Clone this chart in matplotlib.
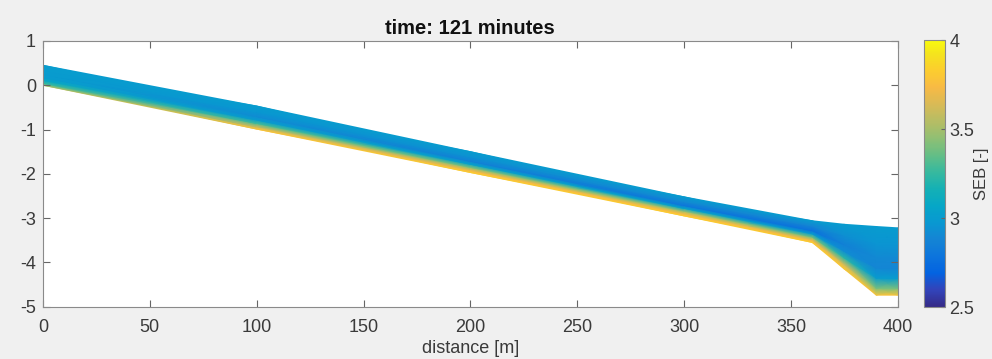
import numpy as np
import matplotlib
matplotlib.use("Agg")
import matplotlib.pyplot as plt
from matplotlib.colors import LinearSegmentedColormap, Normalize

plt.rcParams['font.family'] = ['Liberation Sans', 'DejaVu Sans']
plt.rcParams['axes.unicode_minus'] = False

# stations along the profile [m]
x_sta = [0, 100, 200, 300, 360, 375, 390, 400]
# bed and surface elevation at each station
bed = [0.0, -0.99, -1.97, -2.95, -3.55, -4.15, -4.74, -4.74]
surf = [0.45, -0.47, -1.50, -2.52, -3.06, -3.14, -3.19, -3.22]
# relative height above bed (0 = bed, 1 = surface)
levels = [0.0, 0.1, 0.25, 0.4, 0.55, 0.75, 1.0]
# SEB values, one row per level, one column per station
seb = [
    [3.50, 3.78, 3.82, 3.82, 3.82, 3.80, 3.78, 3.78],
    [3.25, 3.60, 3.72, 3.75, 3.72, 3.62, 3.40, 3.40],
    [3.08, 3.28, 3.40, 3.45, 3.38, 3.22, 3.00, 3.00],
    [3.00, 3.00, 3.04, 3.05, 3.00, 2.92, 2.89, 2.89],
    [3.00, 2.92, 2.86, 2.80, 2.77, 2.86, 2.90, 2.90],
    [3.00, 2.97, 2.94, 2.90, 2.88, 2.93, 2.96, 2.96],
    [3.00, 3.00, 3.00, 3.00, 3.00, 3.00, 3.00, 3.00],
]

xticks = [0, 50, 100, 150, 200, 250, 300, 350, 400]
yticks = [-5, -4, -3, -2, -1, 0, 1]
cticks = [2.5, 3, 3.5, 4]

# parula-like colormap
parula_stops = [
    (0.2081, 0.1663, 0.5292), (0.1959, 0.2645, 0.7279), (0.0117, 0.3875, 0.8820),
    (0.0498, 0.4586, 0.8641), (0.0793, 0.5200, 0.8312), (0.0343, 0.5966, 0.8199),
    (0.0228, 0.6535, 0.7768), (0.0843, 0.6928, 0.7062), (0.2178, 0.7250, 0.6193),
    (0.3953, 0.7459, 0.5244), (0.5709, 0.7485, 0.4494), (0.7184, 0.7411, 0.3905),
    (0.8507, 0.7299, 0.3360), (0.9739, 0.7314, 0.2666), (0.9880, 0.8066, 0.1794),
    (0.9589, 0.8949, 0.1132), (0.9763, 0.9831, 0.0538),
]
pos = list(np.arange(0, 61, 4) / 63) + [1.0]
parula = LinearSegmentedColormap.from_list("parula", list(zip(pos, parula_stops)))

X = np.tile(np.array(x_sta, float), (len(levels), 1))
B = np.array(bed)
S = np.array(surf)
Y = B[None, :] + np.array(levels)[:, None] * (S - B)[None, :]
C = np.array(seb)

fig = plt.figure(figsize=(9.92, 3.59), dpi=100, facecolor='#f0f0f0')
ax = fig.add_axes([0.0433, 0.1457, 0.8617, 0.7403])
norm = Normalize(2.5, 4)
pc = ax.pcolormesh(X, Y, C, cmap=parula, norm=norm, shading='gouraud')

ax.set_xlim(0, 400)
ax.set_ylim(-5, 1)
ax.set_xticks(xticks)
ax.set_yticks(yticks)
ax.tick_params(direction='in', length=5, top=True, right=True, labelsize=13,
               colors='#666666', labelcolor='#3a3a3a')
ax.tick_params(axis='x', pad=9)
ax.tick_params(axis='y', pad=5)
for sp in ax.spines.values():
    sp.set_color('#8a8a8a')
ax.set_title('time: 121 minutes', fontsize=14.5, fontweight='bold', color='#111111', pad=5)
ax.set_xlabel('distance [m]', fontsize=13, color='#3a3a3a', labelpad=3)

cax = fig.add_axes([0.9315, 0.1443, 0.0212, 0.744])
cb = fig.colorbar(pc, cax=cax, ticks=cticks)
cb.ax.set_yticklabels(['2.5', '3', '3.5', '4'])
cb.ax.tick_params(direction='in', length=3, labelsize=13, colors='#666666',
                  labelcolor='#3a3a3a', pad=3)
cb.outline.set_edgecolor('#8a8a8a')
cb.set_label('SEB [-]', fontsize=12, color='#3a3a3a', labelpad=0)

fig.savefig('out.png', dpi=100, facecolor=fig.get_facecolor())
